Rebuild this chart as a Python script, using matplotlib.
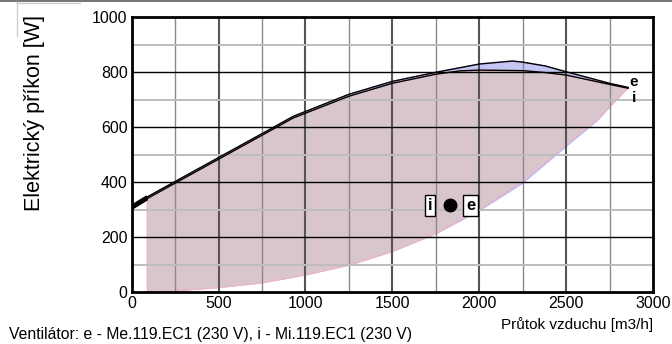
import matplotlib
matplotlib.use("Agg")
import matplotlib.pyplot as plt
from matplotlib.patches import Rectangle
from matplotlib.lines import Line2D
import numpy as np

plt.rcParams['font.family'] = ['Liberation Sans', 'DejaVu Sans']

# Fan power envelopes [W] vs. air flow [m3/h]
flow_e = [0, 90, 250, 500, 750, 930, 1250, 1500, 1750, 2000, 2190, 2250, 2380, 2500, 2750, 2857]
upper_e = [312, 347, 403, 490, 577, 640, 720, 767, 800, 830, 841, 837, 823, 802, 760, 745]

flow_i = [0, 90, 250, 500, 750, 930, 1250, 1500, 1750, 1886, 2000, 2250, 2380, 2500, 2750, 2857]
upper_i = [306, 341, 397, 484, 571, 634, 713, 760, 793, 805, 808, 806, 799, 790, 756, 742]

low_flow = [90, 250, 500, 750, 1000, 1250, 1500, 1750, 2000, 2250, 2500, 2677, 2857]
lower_i = [0, 5, 17, 34, 63, 98, 148, 214, 300, 402, 536, 627, 742]
lower_e = [0, 5, 17, 34, 63, 98, 148, 212, 296, 396, 530, 622, 745]

# Operating point
op_flow = 1830
op_power = 317

x_ticks = [0, 500, 1000, 1500, 2000, 2500, 3000]
y_ticks = [0, 200, 400, 600, 800, 1000]

fig = plt.figure(figsize=(6.72, 3.44), dpi=100)
ax = fig.add_axes([131.7 / 672, 51.7 / 344, (653 - 131.7) / 672, (292.3 - 17.3) / 344])
ax.set_xlim(0, 3000)
ax.set_ylim(0, 1000)


def envelope(flow, upper, lflow, lower):
    xs = list(flow[1:]) + list(lflow[::-1])
    ys = list(upper[1:]) + list(lower[::-1])
    return xs, ys


xe, ye = envelope(flow_e, upper_e, low_flow, lower_e)
xi, yi = envelope(flow_i, upper_i, low_flow, lower_i)
ax.fill(xe, ye, color='#c6c6f4', lw=0.8, ec='#b4b4ff', zorder=1)
ax.fill(xi, yi, color='#d9c5cc', lw=0.8, ec='#f2b4bc', zorder=1.1)

# grid
for v in np.arange(250, 3000, 250):
    major = v % 500 == 0
    ax.axvline(v, color='#555555' if major else '#8a8a8a', lw=1.5 if major else 1.0, zorder=2)
for v in np.arange(100, 1000, 100):
    major = v % 200 == 0
    ax.axhline(v, color='#000000' if major else '#bdbdbd', lw=1.0 if major else 1.4, zorder=2)

# upper curves
ax.plot(flow_e[1:], upper_e[1:], color='black', lw=1.0, zorder=3)
ax.plot(flow_i[1:], upper_i[1:], color='black', lw=1.0, zorder=3)
ax.plot(flow_e[:2], upper_e[:2], color='black', lw=2.6, zorder=3, solid_capstyle='butt')
ax.plot(flow_i[:2], upper_i[:2], color='black', lw=2.6, zorder=3, solid_capstyle='butt')

ax.annotate('e', (flow_e[-1], upper_e[-1]), xytext=(4, 4), textcoords='offset points',
            ha='center', va='center', fontsize=11, fontweight='bold', zorder=4)
ax.annotate('i', (flow_i[-1], upper_i[-1]), xytext=(4, -7), textcoords='offset points',
            ha='center', va='center', fontsize=11, fontweight='bold', zorder=4)

# operating point
ax.plot([op_flow], [op_power], 'o', color='black', ms=9, zorder=5)
box = dict(boxstyle='square,pad=0.18', fc='white', ec='black', lw=1)
ax.annotate('i', (op_flow, op_power), xytext=(-14, 0), textcoords='offset points',
            ha='center', va='center', fontsize=12, fontweight='bold', bbox=box, zorder=5)
ax.annotate('e', (op_flow, op_power), xytext=(15, 0), textcoords='offset points',
            ha='center', va='center', fontsize=12, fontweight='bold', bbox=box, zorder=5)

ax.set_xticks(x_ticks)
ax.set_yticks(y_ticks)
ax.tick_params(length=0, labelsize=11.5, pad=3)
for s in ax.spines.values():
    s.set_linewidth(2.0)
    s.set_color('black')
    s.set_zorder(6)

fig.text(35 / 672, 1 - 113 / 344, 'Elektrický příkon [W]', rotation=90,
         ha='center', va='center', fontsize=15.5)
fig.text(653 / 672, 1 - 325 / 344, 'Průtok vzduchu [m3/h]', ha='right', va='center', fontsize=11)
fig.text(9 / 672, 1 - 334 / 344, 'Ventilátor: e - Me.119.EC1 (230 V), i - Mi.119.EC1 (230 V)',
         ha='left', va='center', fontsize=11.3)

# frame decoration at the top edge
fig.patches.append(Rectangle((0, 1 - 2 / 344), 1, 2 / 344, transform=fig.transFigure,
                             color='#777777', lw=0))
fig.lines.append(Line2D([16.5 / 672, 16.5 / 672], [1 - 2 / 344, 1 - 36 / 344],
                        transform=fig.transFigure, color='#cccccc', lw=1))
fig.lines.append(Line2D([16.5 / 672, 80 / 672], [1 - 3 / 344, 1 - 3 / 344],
                        transform=fig.transFigure, color='#cccccc', lw=1))

fig.savefig('out.png', dpi=100)
